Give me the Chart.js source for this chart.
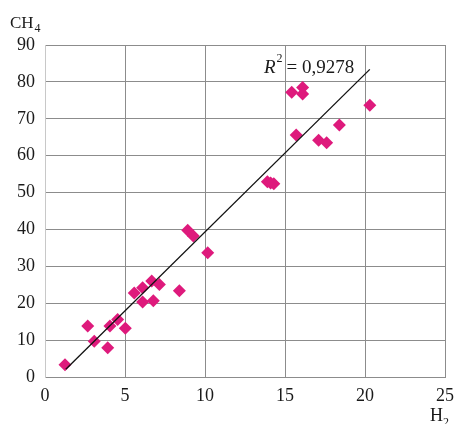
<!DOCTYPE html>
<html>
<head>
<meta charset="utf-8">
<script src="https://cdn.jsdelivr.net/npm/chart.js@4"></script>
<style>
  body { margin: 0; background: #fff; }
  #wrap { width: 463px; height: 424px; }
</style>
</head>
<body>
<div id="wrap"><canvas id="myChart" width="463" height="424"></canvas></div>
<script>
// H2 vs CH4 measurements
const h2 = [1.25, 2.67, 3.08, 3.92, 4.06, 4.54, 5.02, 5.58, 6.1, 6.1, 6.67, 6.77, 7.15, 8.4,
            8.92, 9.27, 10.17, 13.9, 14.1, 14.3, 15.42, 15.7, 16.1, 16.1, 17.1, 17.6, 18.4, 20.3];
const ch4 = [3.3, 13.8, 9.7, 7.9, 13.8, 15.6, 13.2, 22.8, 24.2, 20.3, 26.0, 20.7, 25.1, 23.4,
             39.8, 38.2, 33.7, 52.9, 52.6, 52.4, 77.2, 65.6, 78.5, 76.7, 64.2, 63.5, 68.3, 73.7];

// trend line end points
const trendX = [1.3, 20.3];
const trendY = [2.1, 83.4];

const xTicks = [0, 5, 10, 15, 20, 25];
const yTicks = [0, 10, 20, 30, 40, 50, 60, 70, 80, 90];
const r2Label = "0,9278";

const serif = "'Liberation Serif', 'Times New Roman', serif";

const labelsPlugin = {
    id: 'labels',
    afterDraw(chart) {
        const ctx = chart.ctx;
        ctx.save();
        ctx.fillStyle = '#1a1a1a';
        ctx.textBaseline = 'alphabetic';
        // CH4
        ctx.font = `17px ${serif}`;
        ctx.fillText('CH', 10, 28);
        let w = ctx.measureText('CH').width;
        ctx.font = `12px ${serif}`;
        ctx.fillText('4', 11 + w, 32);
        // H2
        ctx.font = `18px ${serif}`;
        ctx.fillText('H', 430, 421);
        w = ctx.measureText('H').width;
        ctx.font = `12px ${serif}`;
        ctx.fillText('2', 430 + w, 426);
        // R^2
        let x = 264;
        ctx.font = `italic 19px ${serif}`;
        ctx.fillText('R', x, 73);
        x += ctx.measureText('R').width + 1;
        ctx.font = `12px ${serif}`;
        ctx.fillText('2', x, 62);
        x += ctx.measureText('2').width + 4;
        ctx.font = `19px ${serif}`;
        ctx.fillText('= ' + r2Label, x, 73);
        ctx.restore();
    }
};

const ctx = document.getElementById('myChart');
new Chart(ctx, {
    type: 'scatter',
    data: {
        datasets: [
            {
                label: 'CH4',
                data: h2.map((v, i) => ({x: v, y: ch4[i]})),
                pointStyle: 'rectRot',
                pointRadius: 6.5,
                pointHoverRadius: 6.5,
                backgroundColor: '#de1a7c',
                borderColor: '#de1a7c',
                borderWidth: 0,
                order: 1
            },
            {
                type: 'line',
                label: 'trend',
                data: trendX.map((v, i) => ({x: v, y: trendY[i]})),
                borderColor: '#111',
                borderWidth: 1.3,
                pointRadius: 0,
                fill: false,
                order: 0
            }
        ]
    },
    options: {
        responsive: false,
        animation: false,
        layout: { padding: { top: 45, right: 18, left: 0, bottom: 0 } },
        plugins: {
            legend: { display: false },
            tooltip: { enabled: false }
        },
        scales: {
            x: {
                type: 'linear',
                min: 0, max: 25,
                afterBuildTicks: (axis) => { axis.ticks = xTicks.map(v => ({value: v})); },
                afterFit: (axis) => { axis.height = 47; },
                grid: { color: '#8c8c8c', drawTicks: false },
                border: { color: '#8c8c8c' },
                ticks: { padding: 8, color: '#1a1a1a', font: { family: serif, size: 18 } }
            },
            y: {
                type: 'linear',
                min: 0, max: 90,
                afterBuildTicks: (axis) => { axis.ticks = yTicks.map(v => ({value: v})); },
                afterFit: (axis) => { axis.width = 45; },
                grid: { color: '#8c8c8c', drawTicks: false },
                border: { color: '#c8c8c8' },
                ticks: { padding: 10, color: '#1a1a1a', font: { family: serif, size: 18 } }
            }
        }
    },
    plugins: [labelsPlugin]
});
</script>
</body>
</html>
